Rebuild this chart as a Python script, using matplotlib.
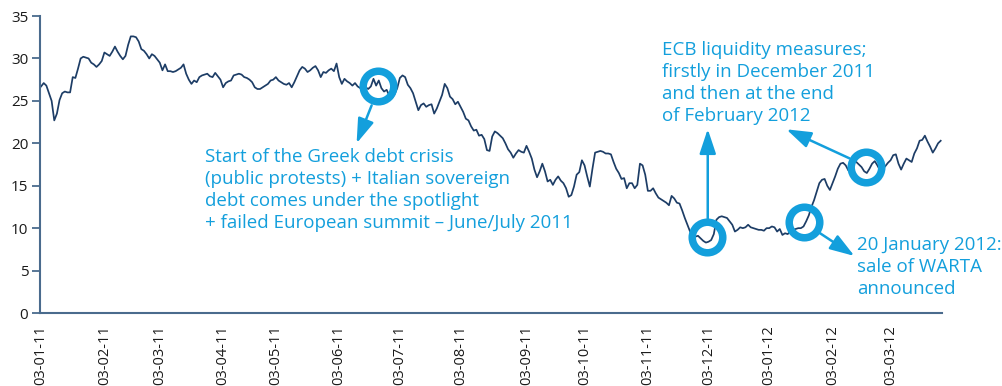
import matplotlib.pyplot as plt
import numpy as np

plt.rcParams['font.family'] = ['Open Sans', 'DejaVu Sans']

# closing level, one value per session starting 3 Jan 2011
level = [
    26.7, 27.1, 26.8, 25.9, 25.0, 22.7, 23.5, 25.1, 25.9, 26.1, 26.0, 26.0, 27.8, 27.7, 28.8,
    30.0, 30.2, 30.1, 30.0, 29.5, 29.3, 29.0, 29.3, 29.7, 30.7, 30.5, 30.3, 30.8, 31.4, 30.8,
    30.3, 29.9, 30.3, 31.6, 32.6, 32.6, 32.5, 32.0, 31.1, 30.9, 30.5, 30.0, 30.5, 30.3, 29.9,
    29.5, 28.6, 29.3, 28.5,
    28.5, 28.4, 28.5, 28.7, 28.9, 29.3, 28.2, 27.5, 27.0, 27.4, 27.2, 27.8, 28.0, 28.1, 28.2,
    27.9, 27.8, 28.3, 27.9, 27.5, 26.6, 27.1, 27.3, 27.4, 28.0, 28.1, 28.2, 28.1, 27.8, 27.7,
    27.5, 27.2, 26.6, 26.4, 26.4, 26.6, 26.8, 27.0, 27.4, 27.5, 27.8, 27.4, 27.2, 27.0, 26.9,
    27.1, 26.6, 27.2, 27.9, 28.6,
    29.0, 28.8, 28.4, 28.6, 28.9, 29.1, 28.6, 27.8, 28.4, 28.3, 28.6, 28.8, 28.5, 29.4, 27.8,
    27.0, 27.6, 27.3, 27.1, 26.8, 27.1, 26.7, 26.5, 27.0, 26.6, 26.4, 26.7, 27.6, 26.8, 27.4,
    26.5, 26.1, 26.3, 25.6, 25.3, 25.8, 26.5, 27.7, 28.0, 27.8, 26.9, 26.5, 25.9, 24.9, 23.9,
    24.5, 24.7, 24.3, 24.5,
    24.6, 23.5, 24.1, 24.9, 25.7, 27.0, 26.5, 25.5, 25.2, 24.6, 24.9, 24.3, 23.7, 22.9, 22.7,
    22.0, 21.5, 21.6, 20.9, 21.0, 20.5, 19.2, 19.1, 20.8, 21.4, 21.2, 20.9, 20.6, 20.0, 19.3,
    18.9, 18.3, 18.8, 19.2, 19.0, 18.9, 19.7, 19.0, 18.2, 16.9, 16.0, 16.7, 17.6, 16.7, 15.5,
    15.7, 15.1, 15.7, 16.1, 15.6,
    15.3, 14.7, 13.7, 13.9, 14.9, 16.3, 16.6, 18.0, 17.4, 16.1, 14.9, 17.0, 18.9, 19.0, 19.1,
    19.0, 18.8, 18.8, 18.7, 17.8, 17.0, 16.5, 15.8, 15.9, 14.7, 15.3, 15.3, 14.7, 15.1, 17.6,
    17.4, 16.3, 14.4, 14.4, 14.7, 14.1, 13.6, 13.4, 13.2, 13.0, 12.7, 13.8, 13.5, 13.0, 12.9,
    12.1, 11.2, 10.4, 9.6,
    9.2, 9.0, 9.1, 8.8, 8.5, 8.3, 8.4, 8.6, 9.3, 11.0, 11.3, 11.4, 11.3, 11.2, 10.8,
    10.4, 9.6, 9.8, 10.1, 10.0, 10.1, 10.4, 10.1, 10.0, 9.9, 9.8, 9.8, 9.7, 10.0, 10.0,
    10.2, 10.1, 9.6, 9.9, 9.2, 9.4, 9.3, 9.6, 9.8, 9.9, 10.0, 10.0, 10.2, 10.8, 11.5,
    12.5, 13.3,
    14.3, 15.3, 15.7, 15.8, 15.0, 14.5, 15.3, 16.1, 17.0, 17.6, 17.7, 17.4, 16.8, 17.6, 18.1,
    17.8, 17.5, 17.2, 16.7, 16.5, 17.0, 17.6, 17.9, 17.4, 16.8, 17.0, 17.3, 17.7, 18.0, 18.6,
    18.7, 17.6, 16.9, 17.6, 18.2, 18.0, 17.8, 18.8, 19.4, 20.3, 20.4, 20.9, 20.2, 19.6, 18.9,
    19.4, 20.0, 20.3,
]

tick_sessions = [0, 24, 45, 69, 89, 113, 136, 159, 184, 206, 230, 253, 276, 300, 322]
tick_labels = ['03-01-11', '03-02-11', '03-03-11', '03-04-11', '03-05-11', '03-06-11',
               '03-07-11', '03-08-11', '03-09-11', '03-10-11', '03-11-11', '03-12-11',
               '03-01-12', '03-02-12', '03-03-12']

# highlighted events (session, level)
event_x = [127.7, 252.5, 289.0, 312.8]
event_y = [26.75, 8.96, 10.78, 17.15]

navy = '#1d3d66'
cyan = '#139fdc'
axis_col = '#4a6b8d'

fig = plt.figure(figsize=(10.03, 3.86), dpi=100)
ax = fig.add_axes([0.0399, 0.1891, 0.8993, 0.7694])

x = np.arange(len(level))
ax.plot(x, level, color=navy, lw=1.25, zorder=2)
ax.plot(event_x, event_y, ls='none', marker='o', ms=22, mew=5.4,
        mfc='none', mec=cyan, zorder=3)

ax.set_xlim(-0.4, len(level) - 0.5)
ax.set_ylim(0, 35)
ax.set_yticks(np.arange(0, 36, 5))
ax.set_xticks(tick_sessions)
ax.set_xticklabels(tick_labels, rotation=90)

for side in ['top', 'right']:
    ax.spines[side].set_visible(False)
for side in ['left', 'bottom']:
    ax.spines[side].set_color(axis_col)
    ax.spines[side].set_linewidth(1.5)

ax.tick_params(axis='y', direction='out', length=5.5, width=1.3, color=axis_col,
               labelsize=11, labelcolor='#1a1a1a', pad=3)
ax.tick_params(axis='x', length=0, labelsize=10.5, labelcolor='#1a1a1a', pad=9)

arrow = dict(arrowstyle='-|>,head_length=0.6,head_width=0.2', color=cyan, lw=1.8,
             mutation_scale=25, shrinkA=0, shrinkB=0)
ax.annotate('', xy=(119.6, 20.0), xytext=(125.3, 24.47), arrowprops=arrow)
ax.annotate('', xy=(252.7, 21.68), xytext=(252.7, 10.96), arrowprops=arrow)
ax.annotate('', xy=(282.5, 21.65), xytext=(306.4, 18.23), arrowprops=arrow)
ax.annotate('', xy=(308.3, 6.72), xytext=(294.4, 9.58), arrowprops=arrow)

note = dict(color=cyan, fontsize=13.5, ha='left', va='top', linespacing=1.29)
ax.text(62.1, 19.45, 'Start of the Greek debt crisis\n(public protests) + Italian sovereign\n'
        'debt comes under the spotlight\n+ failed European summit \u2013 June/July 2011', **note)
ax.text(235.3, 32.1, 'ECB liquidity measures;\nfirstly in December 2011\n'
        'and then at the end\nof February 2012', **note)
ax.text(309.4, 9.13, '20 January 2012:\nsale of WARTA\nannounced', **note)

fig.savefig('out.png', dpi=100)
